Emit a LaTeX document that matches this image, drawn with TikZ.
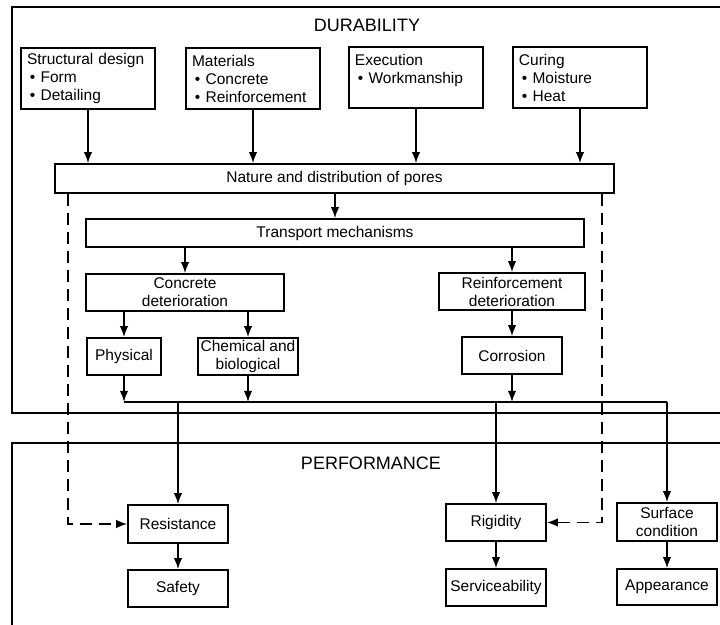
\documentclass[tikz,border=0pt]{standalone}
\usepackage{fontspec}
\setmainfont{Liberation Sans}
\usetikzlibrary{arrows.meta}
\tikzset{blk/.style={draw,line width=0.8pt,inner sep=0pt,align=center,font=\fontsize{7.75}{9}\selectfont},
    lst/.style={blk,align=left,text width=61pt,minimum width=67pt,minimum height=30.5pt},
    sm/.style={blk,minimum width=50pt,minimum height=18.5pt},
    arr/.style={line width=0.8pt,-{Latex[length=5.5pt,width=4.2pt]}},
    dsh/.style={arr,dash pattern=on 6pt off 3.5pt},
    ttl/.style={font=\fontsize{9}{10}\selectfont}}

\begin{document}
\begin{tikzpicture}[x=0.5pt,y=-0.5pt]
                \clip (0,0) rectangle (720,625);
                \draw [line width=0.8pt] (12,7) rectangle (740,413);
                \draw [line width=0.8pt] (12,443) rectangle (740,650);
                \node (dur) [ttl] at (367,25) {DURABILITY};
                \node (perf) [ttl] at (371,463) {PERFORMANCE};
                % influences
                \node (sd) [lst] at (88,78.5) {Structural design\\\hspace*{1.5pt}\textbullet\ Form\\\hspace*{1.5pt}\textbullet\ Detailing};
                \node (mat) [lst] at (253,78.5) {Materials\\\hspace*{1.5pt}\textbullet\ Concrete\\\hspace*{1.5pt}\textbullet\ Reinforcement};
                \node (exe) [lst] at (416,77.5) {Execution\\\hspace*{1.5pt}\textbullet\ Workmanship\\\mbox{}};
                \node (cur) [lst] at (580,77.5) {Curing\\\hspace*{1.5pt}\textbullet\ Moisture\\\hspace*{1.5pt}\textbullet\ Heat};
                \node (nat) [blk,minimum width=279.5pt,minimum height=14.5pt] at (334.5,178.5) {Nature and distribution of pores};
                \node (tra) [blk,minimum width=249pt,minimum height=14pt] at (335,233) {Transport mechanisms};
                % deterioration
                \node (cdet) [sm,minimum width=99pt] at (185,292.5) {Concrete\\deterioration};
                \node (rdet) [sm,minimum width=73pt] at (512,291.5) {Reinforcement\\deterioration};
                \node (phy) [sm,minimum width=37pt] at (124,356.5) {Physical};
                \node (chem) [sm] at (248,356.5) {Chemical and\\biological};
                \node (cor) [sm] at (512,355.5) {Corrosion};
                % performance
                \node (saf) [sm] at (178,588.5) {Safety};
                \node (res) [sm,minimum height=19pt] at (178,524) {Resistance}
                    edge [arr] (saf)
                ;
                \node (ser) [sm] at (496,587.5) {Serviceability};
                \node (rig) [sm] at (496,522.5) {Rigidity}
                    edge [arr] (ser)
                ;
                \node (app) [sm,minimum height=18pt] at (667,587) {Appearance};
                \node (surf) [sm,minimum height=19pt] at (667,522) {Surface\\condition}
                    edge [arr] (app)
                ;
                \coordinate (busL) at (124,402);
                \coordinate (busR) at (667,402);
                \coordinate (dl) at (68,524);
                \coordinate (dr) at (602,522.5);
                \foreach \n in {sd,mat,exe,cur}
                    \draw [arr] (\n) -- (\n |- nat.north);
                \draw [arr] (tra |- nat.south) -- (tra);
                \draw [arr] (cdet |- tra.south) -- (cdet);
                \draw [arr] (rdet |- tra.south) -- (rdet);
                \draw [arr] (phy |- cdet.south) -- (phy);
                \draw [arr] (chem |- cdet.south) -- (chem);
                \draw [arr] (rdet) -- (cor);
                \draw [arr] (phy) -- (busL);
                \draw [arr] (chem) -- (chem |- busL);
                \draw [arr] (cor) -- (cor |- busL);
                \draw [line width=0.8pt] (busL) -- (busR);
                \draw [arr] (res |- busL) -- (res);
                \draw [arr] (rig |- busL) -- (rig);
                \draw [arr] (busR) -- (surf);
                \draw [dsh] (nat.south -| dl) -- (dl) -- (res);
                \draw [dsh] (nat.south -| dr) -- (dr) -- (rig);
\end{tikzpicture}
\end{document}
